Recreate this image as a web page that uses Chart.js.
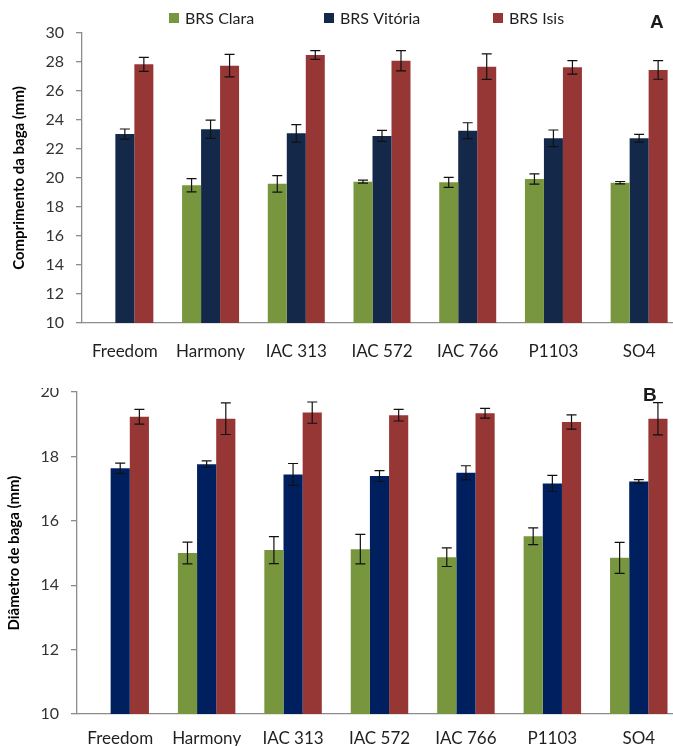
<!DOCTYPE html>
<html>
<head>
<meta charset="utf-8">
<script src="https://cdn.jsdelivr.net/npm/chart.js@4"></script>
<style>
  html, body { margin:0; padding:0; background:#fff; width:673px; height:746px; overflow:hidden; position:relative; }
  .wrap { position:absolute; left:0; overflow:hidden; width:673px; }
  .wrap canvas { position:absolute; left:0; }
  .tag { position:absolute; font-family:"Liberation Sans", Arial, sans-serif; font-weight:bold; color:#1a1a1a; line-height:1; }
</style>
</head>
<body>
<div class="wrap" style="top:0;height:388px;"><div style="position:absolute;left:0;top:0;width:682px;height:388px;"><canvas id="c1"></canvas></div></div>
<div class="wrap" style="top:388px;height:358px;"><div style="position:absolute;left:0;top:-15px;width:682px;height:373px;"><canvas id="c2"></canvas></div></div>
<div class="tag" style="left:650px;top:12px;font-size:19px;">A</div>
<div class="tag" style="left:643px;top:385px;font-size:19px;">B</div>
<script>
const categories = ["Freedom", "Harmony", "IAC 313", "IAC 572", "IAC 766", "P1103", "SO4"];
const seriesNames = ["BRS Clara", "BRS Vitória", "BRS Isis"];

// Panel A: Comprimento da baga (mm)
const lenClara   = [null, 19.5, 19.6, 19.75, 19.7, 19.93, 19.68];
const lenVitoria = [23.03, 23.36, 23.08, 22.9, 23.26, 22.74, 22.74];
const lenIsis    = [27.84, 27.75, 28.48, 28.09, 27.68, 27.63, 27.45];
const lenClaraErr   = [null, 0.46, 0.57, 0.1, 0.35, 0.35, 0.08];
const lenVitoriaErr = [0.35, 0.63, 0.6, 0.38, 0.55, 0.57, 0.27];
const lenIsisErr    = [0.48, 0.77, 0.3, 0.7, 0.88, 0.46, 0.64];

// Panel B: Diâmetro de baga (mm)
const diaClara   = [null, 15.0, 15.09, 15.12, 14.87, 15.52, 14.85];
const diaVitoria = [17.63, 17.76, 17.44, 17.39, 17.49, 17.16, 17.22];
const diaIsis    = [19.23, 19.17, 19.36, 19.28, 19.34, 19.07, 19.17];
const diaClaraErr   = [null, 0.34, 0.42, 0.46, 0.29, 0.26, 0.48];
const diaVitoriaErr = [0.16, 0.1, 0.34, 0.17, 0.22, 0.25, 0.06];
const diaIsisErr    = [0.23, 0.49, 0.33, 0.18, 0.15, 0.22, 0.5];

const yTicksA = { min: 10, max: 30, step: 2 };
const yTicksB = { min: 10, max: 20, step: 2 };

const FONT = "Lato, 'Open Sans', sans-serif";

const errorBars = {
  id: 'errorBars',
  afterDatasetsDraw(chart) {
    const ctx = chart.ctx;
    const y = chart.scales.y;
    ctx.save();
    ctx.strokeStyle = '#111';
    ctx.lineWidth = 1.2;
    chart.data.datasets.forEach((ds, i) => {
      const meta = chart.getDatasetMeta(i);
      meta.data.forEach((el, j) => {
        const v = ds.data[j], e = ds.err[j];
        if (v == null || e == null) return;
        const x = el.x;
        const yt = y.getPixelForValue(v + e), yb = y.getPixelForValue(v - e);
        const cap = 5;
        ctx.beginPath();
        ctx.moveTo(x, yt); ctx.lineTo(x, yb);
        ctx.moveTo(x - cap, yt); ctx.lineTo(x + cap, yt);
        ctx.moveTo(x - cap, yb); ctx.lineTo(x + cap, yb);
        ctx.stroke();
      });
    });
    ctx.restore();
  }
};

const manualLegend = {
  id: 'manualLegend',
  afterDraw(chart, args, opts) {
    if (!opts.show) return;
    const ctx = chart.ctx;
    ctx.save();
    ctx.font = opts.font;
    ctx.textBaseline = 'middle';
    ctx.textAlign = 'left';
    chart.data.datasets.forEach((ds, i) => {
      const x = opts.xs[i];
      ctx.fillStyle = ds.backgroundColor;
      ctx.fillRect(x, opts.y - opts.box / 2, opts.box, opts.box);
      ctx.fillStyle = opts.color;
      ctx.fillText(ds.label, x + opts.box + opts.gap, opts.y + 1);
    });
    ctx.restore();
  }
};

function makeChart(id, data, errs, colors, yT, title, axisW, xAxisH, topPad, legendShow, xPad, titlePad) {
  return new Chart(document.getElementById(id), {
    type: 'bar',
    data: {
      labels: categories,
      datasets: seriesNames.map((n, i) => ({
        label: n, data: data[i], err: errs[i],
        backgroundColor: colors[i], borderWidth: 0,
        categoryPercentage: 0.665, barPercentage: 1.0
      }))
    },
    options: {
      responsive: true, maintainAspectRatio: false, animation: false,
      devicePixelRatio: 1,
      layout: { padding: { top: topPad, left: 0, right: 0, bottom: 0 } },
      plugins: {
        legend: { display: false },
        tooltip: { enabled: false },
        manualLegend: { show: legendShow, xs: [169, 324, 493], y: 18, box: 10, gap: 6,
                        font: "16px " + FONT, color: '#1f1f1f' }
      },
      scales: {
        x: {
          grid: { display: false },
          border: { color: '#8c8c8c', width: 1.3 },
          ticks: { color: '#1f1f1f', font: { family: FONT, size: 17 }, padding: xPad, maxRotation: 0, autoSkip: false },
          afterFit(s) { s.height = xAxisH; }
        },
        y: {
          min: yT.min, max: yT.max,
          grid: { display: true, drawOnChartArea: false, drawTicks: true, tickLength: 6, color: '#8c8c8c', lineWidth: 1.3 },
          border: { color: '#8c8c8c', width: 1.3 },
          ticks: { stepSize: yT.step, color: '#333', font: { family: FONT, size: 16 }, padding: 12 },
          title: { display: true, text: title, color: '#000', font: { family: FONT, size: 15, weight: 'bold' }, padding: { top: titlePad, bottom: 0 } },
          afterFit(s) { s.width = axisW; s.paddingTop = 0; s.paddingBottom = 0; }
        }
      }
    },
    plugins: [errorBars, manualLegend]
  });
}

makeChart('c1', [lenClara, lenVitoria, lenIsis], [lenClaraErr, lenVitoriaErr, lenIsisErr],
  ['#77963D', '#14294A', '#963735'], yTicksA, 'Comprimento da baga (mm)', 82, 65, 33, true, 10, 10);
makeChart('c2', [diaClara, diaVitoria, diaIsis], [diaClaraErr, diaVitoriaErr, diaIsisErr],
  ['#77963D', '#001F5F', '#963735'], yTicksB, 'Diâmetro de baga (mm)', 77, 32, 19, false, 6, 5);
</script>
</body>
</html>
